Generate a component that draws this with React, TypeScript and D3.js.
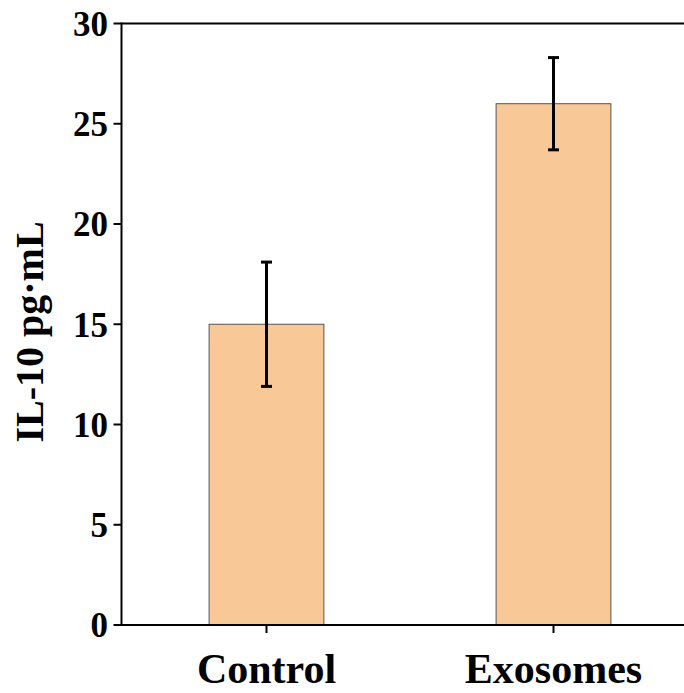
import React from "react";
import * as d3 from "d3";

const categories = ["Control", "Exosomes"];
const means = [15, 26];
const errors = [3.1, 2.3];
const yTicks = [0, 5, 10, 15, 20, 25, 30];

export default function App() {
  const W = 684, H = 693;
  const x0 = 121.5, yBottom = 625, yTop = 23.5;
  const y = d3.scaleLinear().domain([0, 30]).range([yBottom, yTop]);
  const x = d3.scaleBand<string>().domain(categories).range([123, 697]).paddingInner(0.6).paddingOuter(0.3);
  const font = "'Liberation Serif', 'Times New Roman', serif";
  return (
    <svg width={W} height={H} style={{ position: "absolute", left: 0, top: 0, background: "#fff" }}>
      {categories.map((c, i) => {
        const bx = x(c)!;
        const bw = x.bandwidth();
        const cx = bx + bw / 2;
        return (
          <g key={c}>
            <rect x={bx} y={y(means[i])} width={bw} height={yBottom - y(means[i])} fill="#F9C897" stroke="#555" strokeWidth={1} />
            <line x1={cx} x2={cx} y1={y(means[i] + errors[i])} y2={y(means[i] - errors[i])} stroke="#000" strokeWidth={3} />
            <line x1={cx - 5.5} x2={cx + 5.5} y1={y(means[i] + errors[i])} y2={y(means[i] + errors[i])} stroke="#000" strokeWidth={3} />
            <line x1={cx - 5.5} x2={cx + 5.5} y1={y(means[i] - errors[i])} y2={y(means[i] - errors[i])} stroke="#000" strokeWidth={3} />
            <line x1={cx} x2={cx} y1={yBottom} y2={yBottom + 8} stroke="#000" strokeWidth={2} />
            <text x={cx} y={683} textAnchor="middle" fontFamily={font} fontWeight="bold" fontSize={42}>{c}</text>
          </g>
        );
      })}
      <line x1={x0} x2={W} y1={yTop} y2={yTop} stroke="#000" strokeWidth={2} />
      <line x1={x0} x2={W} y1={yBottom} y2={yBottom} stroke="#000" strokeWidth={2} />
      <line x1={x0} x2={x0} y1={yTop - 1} y2={yBottom + 1} stroke="#000" strokeWidth={2} />
      {yTicks.map((t) => (
        <g key={t}>
          <line x1={x0 - 8} x2={x0} y1={y(t)} y2={y(t)} stroke="#000" strokeWidth={2} />
          <text x={108} y={y(t)} dy="0.35em" textAnchor="end" fontFamily={font} fontWeight="bold" fontSize={35}>{t}</text>
        </g>
      ))}
      <text transform={`translate(43, 332) rotate(-90)`} textAnchor="middle" fontFamily={font} fontWeight="bold" fontSize={40}>IL-10 pg·mL</text>
    </svg>
  );
}
